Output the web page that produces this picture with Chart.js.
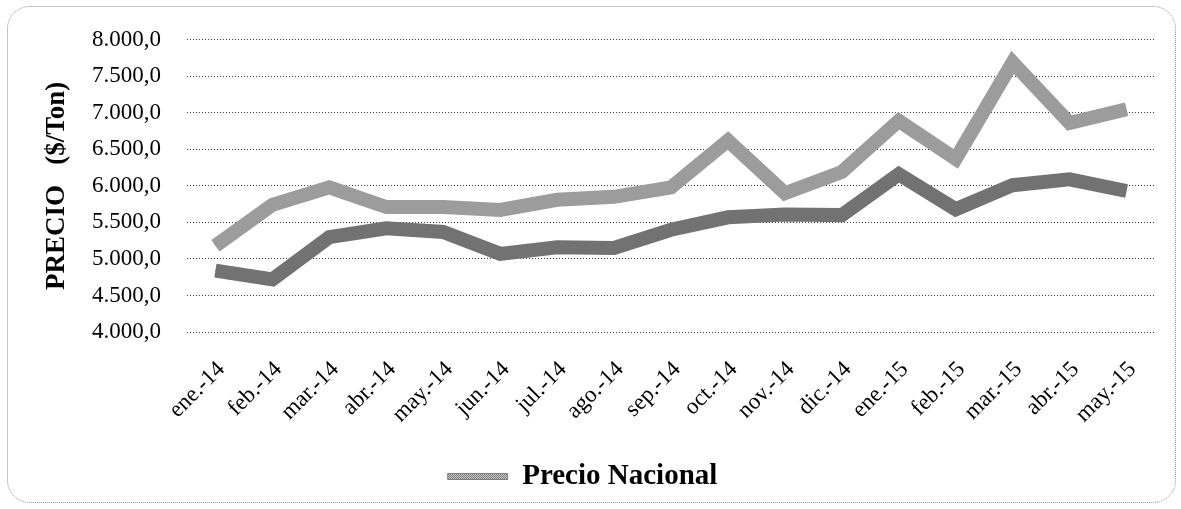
<!DOCTYPE html>
<html lang="es">
  <head>
    <meta charset="UTF-8" />
    <title>Precio Nacional</title>
    <style>
      html, body {
        margin: 0;
        padding: 0;
        background: #ffffff;
      }
      .caja {
        width: 1181px;
        height: 509px;
      }
    </style>
  </head>
  <body>
    <div class="caja">
      <canvas id="grafico" width="1181" height="509"></canvas>
    </div>

    <script src="https://cdn.jsdelivr.net/npm/chart.js"></script>

    <script>
      const meses = [
        "ene.-14", "feb.-14", "mar.-14", "abr.-14", "may.-14", "jun.-14",
        "jul.-14", "ago.-14", "sep.-14", "oct.-14", "nov.-14", "dic.-14",
        "ene.-15", "feb.-15", "mar.-15", "abr.-15", "may.-15",
      ];

      // $/Ton
      const precioNacional = [
        5180, 5740, 5980, 5710, 5710, 5670, 5810, 5850, 5980,
        6620, 5900, 6190, 6890, 6370, 7690, 6860, 7050,
      ];
      const segundaSerie = [
        4840, 4720, 5300, 5420, 5370, 5070, 5160, 5150, 5400,
        5570, 5610, 5600, 6160, 5680, 6010, 6090, 5930,
      ];

      const ejeY = { min: 4000, max: 8000, paso: 500 };

      const serif = "'Liberation Serif', 'Times New Roman', serif";

      // trama de puntos para imitar la impresion en semitono
      function trama(claro, oscuro) {
        const c = document.createElement("canvas");
        c.width = 2;
        c.height = 2;
        const g = c.getContext("2d");
        g.fillStyle = claro;
        g.fillRect(0, 0, 2, 2);
        g.fillStyle = oscuro;
        g.fillRect(0, 0, 1, 1);
        g.fillRect(1, 1, 1, 1);
        return g.createPattern(c, "repeat");
      }

      function formato(v) {
        const s = Math.round(v).toString().replace(/\B(?=(\d{3})+(?!\d))/g, ".");
        return s + ",0";
      }

      const marco = {
        id: "marco",
        beforeDraw(chart) {
          const { ctx } = chart;
          ctx.save();
          ctx.strokeStyle = "#8c8c8c";
          ctx.lineWidth = 1;
          ctx.setLineDash([1, 1]);
          ctx.beginPath();
          ctx.roundRect(7.5, 6.5, 1168, 496, 22);
          ctx.stroke();
          ctx.restore();
        },
      };

      const base = {
        fill: false,
        tension: 0,
        pointRadius: 0,
        pointHoverRadius: 0,
        borderJoinStyle: "miter",
        borderCapStyle: "butt",
      };

      new Chart(document.getElementById("grafico"), {
        type: "line",
        data: {
          labels: meses,
          datasets: [
            { ...base, label: "borde2", data: segundaSerie, borderColor: "#727272", borderWidth: 14 },
            { ...base, label: "serie2", data: segundaSerie, borderColor: trama("#cccccc", "#707070"), borderWidth: 10 },
            { ...base, label: "borde1", data: precioNacional, borderColor: "#9c9c9c", borderWidth: 14 },
            { ...base, label: "Precio Nacional", data: precioNacional, borderColor: trama("#e0e0e0", "#929292"), borderWidth: 10 },
          ],
        },
        options: {
          responsive: false,
          animation: false,
          events: [],
          layout: { padding: { left: 10, right: 26, top: 35, bottom: 8 } },
          plugins: {
            tooltip: { enabled: false },
            legend: {
              position: "bottom",
              labels: {
                color: "#000000",
                font: { family: serif, size: 29, weight: "bold" },
                boxWidth: 60,
                boxHeight: 6,
                padding: 10,
                generateLabels: () => [
                  {
                    text: "Precio Nacional",
                    fillStyle: trama("#d4d4d4", "#727272"),
                    strokeStyle: "#808080",
                    lineWidth: 1,
                    datasetIndex: 3,
                  },
                ],
              },
            },
          },
          scales: {
            x: {
              offset: true,
              grid: { display: false },
              border: { display: false },
              ticks: {
                color: "#000000",
                font: { family: serif, size: 23 },
                maxRotation: 45,
                minRotation: 45,
                padding: 16,
                labelOffset: 6,
                autoSkip: false,
              },
              afterFit(scale) {
                scale.height = 120;
              },
            },
            y: {
              min: ejeY.min,
              max: ejeY.max,
              border: { display: false, dash: [1, 2] },
              grid: {
                color: "#3c3c3c",
                lineWidth: 1,
                drawTicks: false,
              },
              ticks: {
                stepSize: ejeY.paso,
                color: "#000000",
                font: { family: serif, size: 23 },
                padding: 26,
                callback: (v) => formato(v),
              },
              title: {
                display: true,
                text: "PRECIO   ($/Ton)",
                color: "#000000",
                font: { family: serif, size: 27, weight: "bold" },
                padding: { top: 31, bottom: 0 },
              },
              afterFit(scale) {
                scale.width = 177;
              },
            },
          },
        },
        plugins: [marco],
      });
    </script>
  </body>
</html>
